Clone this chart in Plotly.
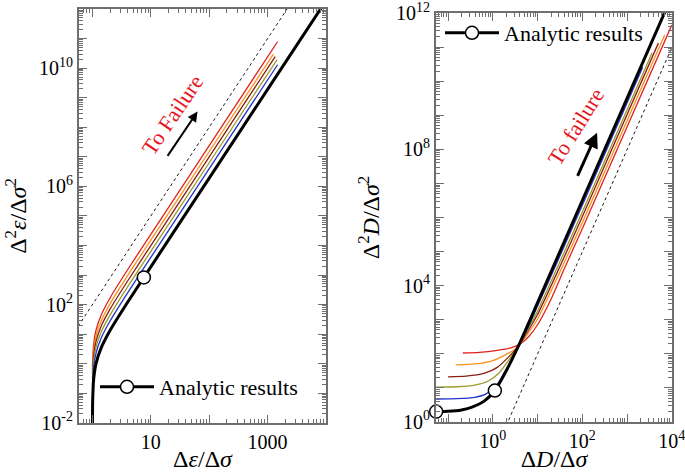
import plotly.graph_objects as go

# ---------------------------------------------------------------------------
# Data (left: strain, right: damage)
# ---------------------------------------------------------------------------
COLORS = ['#e3211c', '#f7941d', '#8c1c13', '#9c9a2a', '#2233cc']  # red, orange, dark red, olive, blue

# left panel: d(eps)/d(sigma) vs d2(eps)/d(sigma)^2
eps_black_x = [1.0, 1.01, 1.05, 1.15, 1.4, 2, 4, 7.6, 10, 100, 1000, 8500]
eps_black_y = [0.005, 0.058, 0.30, 0.99, 3.31, 13.3, 120, 830, 1898, 1.9e6, 1.9e9, 1.17e12]
eps_circle_x = [7.6]
eps_circle_y = [830]

eps_red_x = [1.0, 1.05, 1.15, 1.4, 2, 4, 10, 100, 1480]
eps_red_y = [0.8, 4.6, 13.3, 42.5, 168, 1510, 2.39e4, 2.4e7, 7.8e10]
eps_orange_x = [1.0, 1.05, 1.15, 1.4, 2, 4, 10, 100, 1260]
eps_orange_y = [0.6, 3.0, 8.5, 26.9, 106, 953, 1.51e4, 1.51e7, 3.0e10]
eps_darkred_x = [1.0, 1.05, 1.15, 1.4, 2, 4, 10, 100, 1350]
eps_darkred_y = [0.45, 2.0, 5.65, 17.8, 70, 630, 9960, 1.0e7, 2.45e10]
eps_olive_x = [1.0, 1.05, 1.15, 1.4, 2, 4, 10, 100, 1450]
eps_olive_y = [0.3, 1.3, 3.58, 11.3, 44, 397, 6280, 6.3e6, 1.92e10]
eps_blue_x = [1.0, 1.05, 1.15, 1.4, 2, 4, 10, 100, 1480]
eps_blue_y = [0.18, 0.81, 2.25, 7.1, 27.8, 251, 3970, 3.97e6, 1.3e10]

eps_dash_x = [0.5, 2200]
eps_dash_y = [12.5, 1.06e12]

# right panel: dD/d(sigma) vs d2D/d(sigma)^2
dmg_black_x = [0.05, 0.1, 0.2, 0.355, 0.63, 1.11, 2.0, 3.63, 10, 100, 1000, 7943]
dmg_black_y = [2.0, 2.04, 2.24, 2.75, 3.98, 8.3, 31.6, 155, 3160, 3.16e6, 3.16e9, 1.58e12]
dmg_circle_x = [0.0541, 1.11]
dmg_circle_y = [2.0, 8.3]

dmg_red_x = [0.214, 0.501, 1.26, 2.51, 3.98, 6.31, 10, 20, 39.8, 100, 10000]
dmg_red_y = [105, 110, 126, 148, 191, 316, 708, 3981, 3.16e4, 4.68e5, 4.47e11]
dmg_orange_x = [0.148, 0.398, 1.0, 2.0, 3.63, 6.31, 10, 31.6, 100, 6918]
dmg_orange_y = [46.8, 50.1, 63.1, 95.5, 158, 417, 1047, 2.51e4, 7.08e5, 2.29e11]
dmg_darkred_x = [0.1, 0.251, 0.631, 1.26, 2.24, 3.63, 6.31, 10, 31.6, 100, 5012]
dmg_darkred_y = [20.9, 21.9, 26.3, 39.8, 79.4, 158, 501, 1413, 3.63e4, 1.05e6, 1.32e11]
dmg_olive_x = [0.05, 0.158, 0.398, 0.794, 1.41, 2.24, 3.63, 6.31, 10, 31.6, 100, 3631]
dmg_olive_y = [10.5, 10.7, 12.0, 15.8, 28.2, 63.1, 158, 562, 1778, 5.01e4, 1.45e6, 6.92e10]
dmg_blue_x = [0.05, 0.158, 0.398, 0.708, 1.26, 2.0, 3.63, 6.31, 10, 31.6, 100, 2239]
dmg_blue_y = [4.68, 4.79, 5.25, 6.61, 12.6, 35.5, 158, 631, 2512, 7.41e4, 2.29e6, 2.57e10]

dmg_dash_x = [1.995, 10000]
dmg_dash_y = [0.776, 9.77e10]

# tick labels, keyed by decade exponent
eps_x_ticktext = {1: '10', 3: '1000'}
eps_y_ticktext = {-2: '10<sup>-2</sup>', 2: '10<sup>2</sup>', 6: '10<sup>6</sup>', 10: '10<sup>10</sup>'}
dmg_x_ticktext = {0: '10<sup>0</sup>', 2: '10<sup>2</sup>', 4: '10<sup>4</sup>'}
dmg_y_ticktext = {0: '10<sup>0</sup>', 4: '10<sup>4</sup>', 8: '10<sup>8</sup>', 12: '10<sup>12</sup>'}

FONT = 'Liberation Serif'
AXC = '#6e6e6e'
W, H = 685, 472


def frame_axis(rng, domain, anchor, labels):
    """Axis with the frame line and only the labelled decade ticks"""
    exps = sorted(labels)
    return dict(
        type='log', range=rng, domain=domain, anchor=anchor,
        tickmode='array', tickvals=[10.0 ** e for e in exps], ticktext=[labels[e] for e in exps],
        ticks='inside', ticklen=8, tickwidth=1.2, tickcolor=AXC,
        showline=True, linecolor=AXC, linewidth=2, mirror='allticks',
        showgrid=False, zeroline=False, automargin=False, ticklabeloverflow='allow',
        tickfont=dict(family=FONT, size=20, color='black'),
    )


def tick_axis(rng, overlaying, anchor, lo, hi):
    """Overlay axis carrying every decade tick plus log minor ticks, no labels"""
    minor = [m * 10.0 ** e for e in range(lo - 1, hi + 1) for m in range(2, 10)]
    return dict(
        type='log', range=rng, overlaying=overlaying, anchor=anchor,
        tickmode='array', tickvals=[10.0 ** e for e in range(lo, hi + 1)],
        showticklabels=False, ticks='inside', ticklen=8, tickwidth=1.2, tickcolor=AXC,
        showline=False, mirror='allticks', showgrid=False, zeroline=False, automargin=False,
        minor=dict(tickmode='array', tickvals=minor, ticks='inside',
                   ticklen=4, tickwidth=1, tickcolor=AXC, showgrid=False),
    )


def add_curves(fig, curves, xa, ya):
    for (x, y), color in zip(curves, COLORS):
        fig.add_trace(go.Scatter(x=x, y=y, mode='lines', xaxis=xa, yaxis=ya,
                                 line=dict(color=color, width=1.3, shape='spline', smoothing=0.6),
                                 showlegend=False, hoverinfo='skip'))


fig = go.Figure()

# ---- left panel (dashed reference line sits on the overlay tick axes so they get drawn)
fig.add_trace(go.Scatter(x=eps_dash_x, y=eps_dash_y, mode='lines', xaxis='x3', yaxis='y3',
                         line=dict(color='black', width=0.9, dash='3px,3px'), showlegend=False))
add_curves(fig, [(eps_red_x, eps_red_y), (eps_orange_x, eps_orange_y), (eps_darkred_x, eps_darkred_y),
                 (eps_olive_x, eps_olive_y), (eps_blue_x, eps_blue_y)], 'x', 'y')
fig.add_trace(go.Scatter(x=eps_black_x, y=eps_black_y, mode='lines', xaxis='x', yaxis='y',
                         line=dict(color='black', width=3, shape='spline', smoothing=0.6), showlegend=False))
fig.add_trace(go.Scatter(x=eps_circle_x, y=eps_circle_y, mode='lines+markers', xaxis='x', yaxis='y',
                         name='Analytic results', legend='legend',
                         line=dict(color='black', width=3),
                         marker=dict(symbol='circle', size=13, color='white', line=dict(color='black', width=1.5))))

# ---- right panel
fig.add_trace(go.Scatter(x=dmg_dash_x, y=dmg_dash_y, mode='lines', xaxis='x4', yaxis='y4',
                         line=dict(color='black', width=0.9, dash='3px,3px'), showlegend=False))
add_curves(fig, [(dmg_red_x, dmg_red_y), (dmg_orange_x, dmg_orange_y), (dmg_darkred_x, dmg_darkred_y),
                 (dmg_olive_x, dmg_olive_y), (dmg_blue_x, dmg_blue_y)], 'x2', 'y2')
fig.add_trace(go.Scatter(x=dmg_black_x, y=dmg_black_y, mode='lines', xaxis='x2', yaxis='y2',
                         line=dict(color='black', width=3, shape='spline', smoothing=0.6), showlegend=False))
for i in range(len(dmg_circle_x)):
    fig.add_trace(go.Scatter(x=[dmg_circle_x[i]], y=[dmg_circle_y[i]], mode='lines+markers',
                             xaxis='x2', yaxis='y2', name='Analytic results', legend='legend2',
                             showlegend=(i == 0), cliponaxis=False,
                             line=dict(color='black', width=3),
                             marker=dict(symbol='circle', size=13, color='white',
                                         line=dict(color='black', width=1.5))))

# ---- arrows and labels
red_font = dict(family=FONT, size=22, color='#e8141c')
annotations = [
    dict(xref='x', yref='y', x=1.376, y=8.43, text='To Failure', textangle=-56,
         showarrow=False, font=red_font),
    dict(xref='x', yref='y', axref='x', ayref='y', x=1.80, y=8.53, ax=1.27, ay=6.98,
         text='', showarrow=True, arrowhead=2, arrowsize=1, arrowwidth=2, arrowcolor='black'),
    dict(xref='x2', yref='y2', x=1.86, y=8.67, text='To failure', textangle=-58,
         showarrow=False, font=red_font),
    dict(xref='x2', yref='y2', axref='x2', ayref='y2', x=2.33, y=8.49, ax=1.88, ay=7.18,
         text='', showarrow=True, arrowhead=2, arrowsize=1, arrowwidth=3, arrowcolor='black'),
]

left_x = [79 / W, 326 / W]
right_x = [436 / W, 672 / W]
left_y = [1 - 423 / H, 1 - 9 / H]
right_y = [1 - 422 / H, 1 - 13 / H]

rng_x1, rng_y1 = [-0.23, 4.0], [-2.005, 12.0]
rng_x2, rng_y2 = [-1.27, 4.005], [-0.005, 12.005]

title_font = dict(family=FONT, size=24, color='black')
xaxis = frame_axis(rng_x1, left_x, 'y', eps_x_ticktext)
xaxis['title'] = dict(text='Δ<i>ε</i>/Δ<i>σ</i>', font=title_font, standoff=4)
yaxis = frame_axis(rng_y1, left_y, 'x', eps_y_ticktext)
yaxis['title'] = dict(text='Δ<sup>2</sup><i>ε</i>/Δ<i>σ</i><sup>2</sup>', font=title_font, standoff=6)
xaxis2 = frame_axis(rng_x2, right_x, 'y2', dmg_x_ticktext)
xaxis2['title'] = dict(text='Δ<i>D</i>/Δ<i>σ</i>', font=title_font, standoff=9)
yaxis2 = frame_axis(rng_y2, right_y, 'x2', dmg_y_ticktext)
yaxis2['title'] = dict(text='Δ<sup>2</sup><i>D</i>/Δ<i>σ</i><sup>2</sup>', font=title_font, standoff=10)

legend_common = dict(bgcolor='rgba(0,0,0,0)', borderwidth=0, itemwidth=54,
                     font=dict(family=FONT, size=22, color='black'),
                     xanchor='left', yanchor='middle')

fig.update_layout(
    width=W, height=H,
    margin=dict(l=0, r=0, t=0, b=0),
    paper_bgcolor='white', plot_bgcolor='white',
    xaxis=xaxis, yaxis=yaxis, xaxis2=xaxis2, yaxis2=yaxis2,
    xaxis3=tick_axis(rng_x1, 'x', 'y3', -1, 4),
    yaxis3=tick_axis(rng_y1, 'y', 'x3', -2, 12),
    xaxis4=tick_axis(rng_x2, 'x2', 'y4', -2, 4),
    yaxis4=tick_axis(rng_y2, 'y2', 'x4', 0, 12),
    legend=dict(x=95 / W, y=1 - 387 / H, **legend_common),
    legend2=dict(x=440 / W, y=1 - 33 / H, **legend_common),
    annotations=annotations,
    showlegend=True,
)

fig.write_html("out.html", config={'displayModeBar': False},
               post_script="document.body.style.margin='0';")
